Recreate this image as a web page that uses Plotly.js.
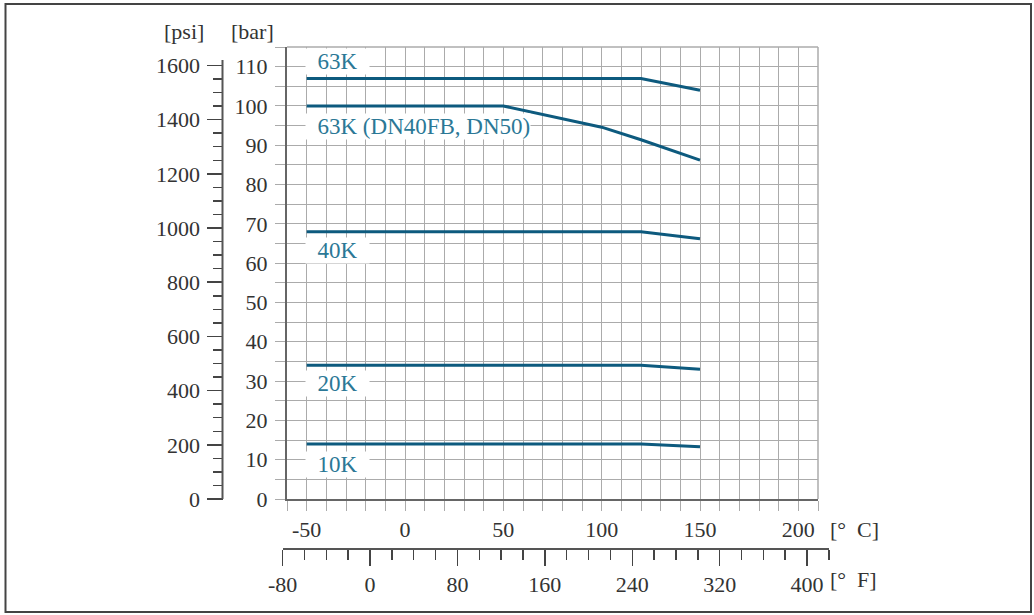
<!DOCTYPE html>
<html>
<head>
<meta charset="utf-8">
<script src="https://cdn.plot.ly/plotly-3.0.1.min.js"></script>
<style>
  html, body { margin: 0; padding: 0; background: #fff; }
  #chart { width: 1034px; height: 615px; }
</style>
</head>
<body>
<div id="chart"></div>
<script>
// ---- data (temperature in °C, pressure in bar) ----
const temps63 = [-50, 120, 150];
const bar63 = [107, 107, 104];
const tempsDN = [-50, 50, 100, 120, 150];
const barDN = [100, 100, 94.6, 91.4, 86.2];
const temps40 = [-50, 120, 150];
const bar40 = [68, 68, 66.2];
const temps20 = [-50, 120, 150];
const bar20 = [34, 34, 33];
const temps10 = [-50, 120, 150];
const bar10 = [14, 14, 13.3];

const seriesNames = ["63K", "63K (DN40FB, DN50)", "40K", "20K", "10K"];
const labelBar = [111.3, 94.9, 63.2, 29.3, 8.7];

const celsiusTicks = [-50, 0, 50, 100, 150, 200];
const celsiusLabels = ["-50", "0", "50", "100", "150", "200"];
const psiMajorTicks = [0, 200, 400, 600, 800, 1000, 1200, 1400, 1600];
const fahrenheitLabels = ["-80", "0", "80", "160", "240", "320", "400"];

// ---- layout geometry ----
const W = 1034, H = 615;
const L = 150, R = 830, T = 47, B = 565;
const pX = p => (p - L) / (R - L);
const pY = p => (B - p) / (B - T);
const X0 = 287, X1 = 818, Y0 = 499, Y1 = 47;
const cMin = -60, cMax = 210, barMax = 115;
const PSI_PER_BAR = 14.5038;
const fMin = -80, fMax = 420;
const fToPx = f => X0 + ((f - 32) / 1.8 - cMin) * (X1 - X0) / (cMax - cMin);

const lineColor = "#0d5a7e";
const labelColor = "#2b7896";
const fontFam = "Liberation Serif, serif";
const tickFont = { family: fontFam, size: 22, color: "#333" };
const gridColor = "#ababab";

const series = [
  [temps63, bar63], [tempsDN, barDN], [temps40, bar40], [temps20, bar20], [temps10, bar10]
];

const traces = series.map((s, i) => ({
  type: "scatter", mode: "lines", x: s[0], y: s[1], name: seriesNames[i],
  line: { color: lineColor, width: 3 }, hoverinfo: "x+y", showlegend: false
}));
// invisible helper trace so the secondary axes (°F, psi) exist
traces.push({ type: "scatter", mode: "lines", x: [], y: [], xaxis: "x2", yaxis: "y2", showlegend: false, hoverinfo: "skip" });

// psi minor ticks
const psiMinor = [];
for (let v = 0; v <= psiMajorTicks[psiMajorTicks.length - 1]; v += 50) psiMinor.push(v);
// °F ticks
const fMajor = [], fMajorText = [], fMinor = [];
for (let v = fMin; v <= 400; v += 40) {
  fMajor.push(v);
  fMajorText.push(fahrenheitLabels.includes(String(v)) ? String(v) : "");
}
for (let v = fMin; v <= fMax; v += 20) fMinor.push(v);

const annotations = seriesNames.map((n, i) => ({
  xref: "x", yref: "y", x: -50, y: labelBar[i], xanchor: "left", yanchor: "middle",
  text: "&nbsp;&nbsp;" + n + (i === 1 ? "" : "&nbsp;&nbsp;"), showarrow: false,
  bgcolor: "#fff", borderpad: 0, xshift: -2,
  font: { family: fontFam, size: 23, color: labelColor }
}));
annotations.push(
  { xref: "paper", yref: "paper", x: pX(184), y: pY(32), text: "[psi]", showarrow: false,
    xanchor: "center", yanchor: "middle", font: tickFont },
  { xref: "paper", yref: "paper", x: pX(252), y: pY(32), text: "[bar]", showarrow: false,
    xanchor: "center", yanchor: "middle", font: tickFont },
  { xref: "paper", yref: "paper", x: pX(828), y: pY(529), text: "[°&nbsp;&nbsp;C]", showarrow: false,
    xanchor: "left", yanchor: "middle", font: tickFont },
  { xref: "paper", yref: "paper", x: pX(828), y: pY(579), text: "[°&nbsp;&nbsp;F]", showarrow: false,
    xanchor: "left", yanchor: "middle", font: tickFont }
);

const shapes = [
  { type: "line", xref: "paper", yref: "paper", x0: pX(X0), x1: pX(X1), y0: pY(Y1), y1: pY(Y1),
    line: { color: gridColor, width: 1.5 } },
  { type: "line", xref: "paper", yref: "paper", x0: pX(X1), x1: pX(X1), y0: pY(Y0), y1: pY(Y1),
    line: { color: gridColor, width: 1.5 } },
  { type: "line", xref: "paper", yref: "y2", x0: pX(222.5), x1: pX(222.5), y0: 0, y1: 1620,
    line: { color: "#555", width: 2 } },
  { type: "rect", xref: "paper", yref: "paper", x0: pX(5.5), x1: pX(1031), y0: pY(4), y1: pY(612),
    line: { color: "#444", width: 2 } }
];

const layout = {
  width: W, height: H,
  margin: { l: L, r: W - R, t: T, b: H - B, pad: 0 },
  paper_bgcolor: "#fff", plot_bgcolor: "rgba(0,0,0,0)",
  font: { family: fontFam, color: "#333" },
  showlegend: false,
  xaxis: {
    domain: [pX(X0), pX(X1)], range: [cMin, cMax], anchor: "y",
    tickmode: "array", tickvals: celsiusTicks, ticktext: celsiusLabels,
    ticks: "outside", ticklen: 10, tickcolor: gridColor, tickwidth: 1,
    showgrid: true, gridcolor: gridColor, gridwidth: 1, zeroline: false,
    showline: true, linecolor: "#666", linewidth: 2,
    tickfont: tickFont, ticklabelstandoff: 0,
    minor: { tickmode: "linear", dtick: 10, tick0: -50, showgrid: true, gridcolor: gridColor, gridwidth: 1,
             ticks: "outside", ticklen: 10, tickcolor: gridColor }
  },
  yaxis: {
    domain: [pY(Y0), pY(Y1)], range: [0, barMax], anchor: "x",
    dtick: 10, ticks: "outside", ticklen: 10, tickcolor: gridColor,
    showgrid: true, gridcolor: gridColor, gridwidth: 1, zeroline: false,
    showline: true, linecolor: "#666", linewidth: 2,
    tickfont: tickFont, ticklabelstandoff: 3,
    minor: { dtick: 5, showgrid: true, gridcolor: gridColor, gridwidth: 1,
             ticks: "outside", ticklen: 10, tickcolor: gridColor }
  },
  xaxis2: {
    anchor: "free", position: pY(549), side: "bottom",
    domain: [pX(fToPx(fMin)), pX(fToPx(fMax))], range: [fMin, fMax],
    tickmode: "array", tickvals: fMajor, ticktext: fMajorText,
    ticks: "outside", ticklen: 16, tickcolor: "#444", tickwidth: 1.5,
    showgrid: false, zeroline: false, showline: true, linecolor: "#555", linewidth: 2,
    tickfont: tickFont, ticklabelstandoff: 0,
    minor: { tickmode: "array", tickvals: fMinor, ticks: "outside", ticklen: 10,
             tickcolor: "#444", tickwidth: 1.5, showgrid: false }
  },
  yaxis2: {
    anchor: "free", position: pX(222.5), side: "left",
    domain: [pY(Y0), pY(Y1)], range: [0, barMax * PSI_PER_BAR],
    tickmode: "array", tickvals: psiMajorTicks,
    ticks: "outside", ticklen: 16, tickcolor: "#444", tickwidth: 1.5,
    showgrid: false, zeroline: false, showline: false,
    tickfont: tickFont, ticklabelstandoff: 2,
    minor: { tickmode: "array", tickvals: psiMinor, ticks: "outside", ticklen: 10,
             tickcolor: "#444", tickwidth: 1.5, showgrid: false }
  },
  annotations: annotations,
  shapes: shapes
};

Plotly.newPlot("chart", traces, layout, { displayModeBar: false, staticPlot: true });
</script>
</body>
</html>
